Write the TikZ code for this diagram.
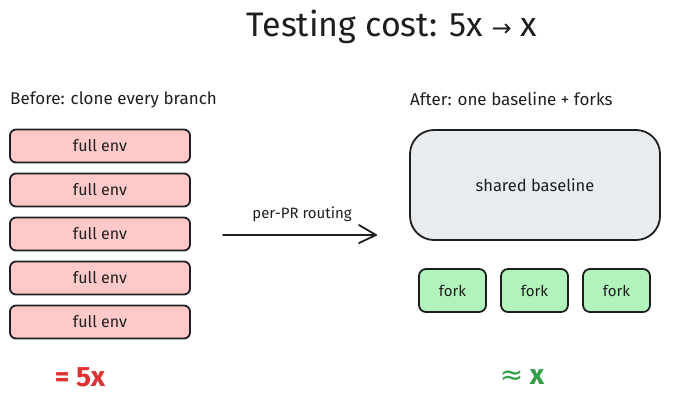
\documentclass[tikz,border=0pt]{standalone}
\usepackage{fontspec}
\usetikzlibrary{calc}
\setmainfont{Fira Sans}
\newfontfamily\symfont{DejaVu Sans}
\definecolor{ink}{HTML}{1E1E1E}
\definecolor{pinkfill}{HTML}{FFC9C9}
\definecolor{greyfill}{HTML}{E9ECEF}
\definecolor{greenfill}{HTML}{B2F2BB}
\definecolor{redink}{HTML}{E03131}
\definecolor{greenink}{HTML}{2F9E44}
\begin{document}
\begin{tikzpicture}[x=1pt,y=-1pt,
  envbox/.style={draw=ink,line width=1.8pt,fill=pinkfill,rounded corners=6pt,minimum width=180pt,minimum height=33pt,font=\fontsize{16}{18}\selectfont,text=ink},
  basebox/.style={draw=ink,line width=1.8pt,fill=greyfill,rounded corners=24pt,minimum width=250pt,minimum height=110pt,font=\fontsize{16.5}{19}\selectfont,text=ink},
  forkbox/.style={draw=ink,line width=1.8pt,fill=greenfill,rounded corners=7pt,minimum width=67pt,minimum height=43pt,font=\fontsize{15}{18}\selectfont,text=ink},
  heading/.style={anchor=west,font=\fontsize{17}{20}\selectfont,text=ink,inner sep=0pt},
  every node/.append style={inner sep=0pt}]
\useasboundingbox (0,0) rectangle (700,402);
\node[font=\fontsize{34}{40}\selectfont,text=ink] (title) at (392,27) {Testing cost: 5x {\symfont\fontsize{24}{28}\selectfont →} x};
\node[heading] (before) at (10,100) {Before: clone every branch};
\node[heading] (after) at (410,99) {After: one baseline + forks};
\node[envbox] (e1) at (100,146) {full env};
\node[envbox] (e2) at (100,190) {full env};
\node[envbox] (e3) at (100,234) {full env};
\node[envbox] (e4) at (100,278) {full env};
\node[envbox] (e5) at (100,322) {full env};
\node[basebox] (base) at (535,185) {shared baseline};
\node[forkbox] (f1) at (452.5,290.5) {fork};
\node[forkbox] (f2) at (534.5,290.5) {fork};
\node[forkbox] (f3) at (616.5,290.5) {fork};
\coordinate (a0) at (223,235);
\coordinate (a1) at (376,235);
\draw[ink,line width=1.8pt,line cap=round,line join=round] (a0) -- (a1);
\draw[ink,line width=1.8pt,line cap=round,line join=round] ($(a1)+(-17,-10)$) -- (a1) -- ($(a1)+(-17,8)$);
\node[font=\fontsize{15}{18}\selectfont,text=ink] (route) at (302,214) {per-PR routing};
\node[font=\bfseries\fontsize{28}{32}\selectfont,text=redink] (cost1) at (80,377) {= 5x};
\node[font=\bfseries\fontsize{28}{32}\selectfont,text=greenink] (cost2) at (522,377) {{\symfont\mdseries ≈} x};
\end{tikzpicture}
\end{document}
